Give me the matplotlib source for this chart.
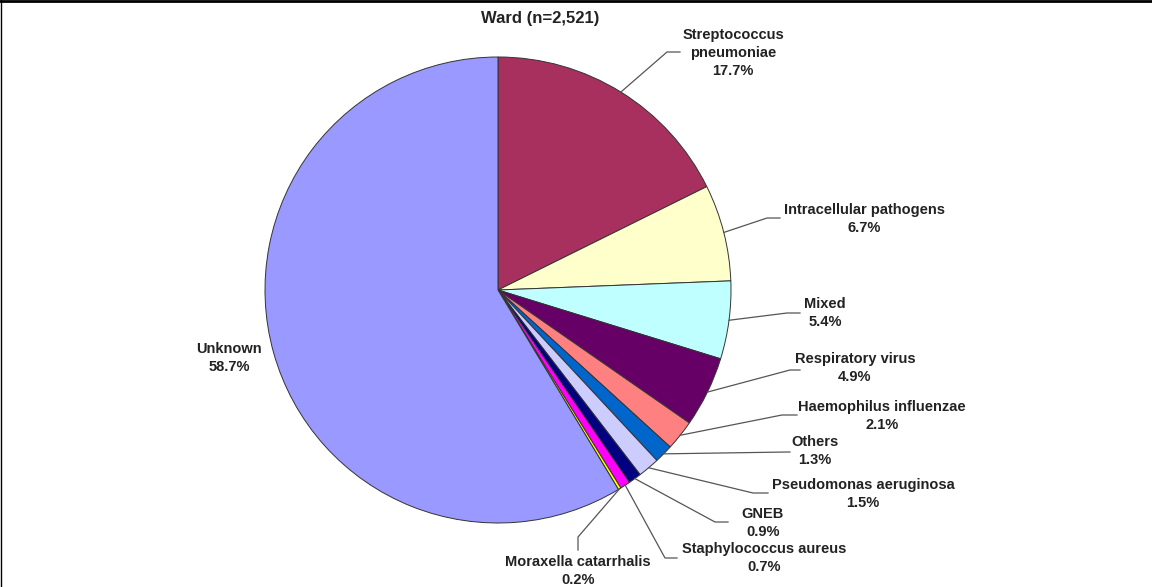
import matplotlib
matplotlib.use('Agg')
import matplotlib.pyplot as plt
import numpy as np
from matplotlib.lines import Line2D

plt.rcParams['font.family'] = ['Liberation Sans', 'DejaVu Sans']

# data
labels = ['Streptococcus\npneumoniae', 'Intracellular pathogens', 'Mixed',
          'Respiratory virus', 'Haemophilus influenzae', 'Others',
          'Pseudomonas aeruginosa', 'GNEB', 'Staphylococcus aureus',
          'Moraxella catarrhalis', 'Unknown']
values = [17.7, 6.7, 5.4, 4.9, 2.1, 1.3, 1.5, 0.9, 0.7, 0.2, 58.7]
colors = ['#A8305F', '#FFFFCC', '#BFFFFF', '#660066', '#FF8080', '#0066CC',
          '#CCCCFF', '#000080', '#FF00FF', '#FFFF00', '#9999FF']

W, H = 1152, 587
# label text positions (pixels from top-left) and leader elbows
text_pos = [(733, 53), (864, 219), (825, 313), (855, 368), (882, 416),
            (815, 451), (863, 494), (763, 523), (764, 558), (578, 571),
            (229, 358)]
elbows = [[(667, 52), (680, 52)], [(767, 218), (780, 218)],
          [(787, 313), (800, 313)], [(790, 370), (800, 370)],
          [(782, 415), (797, 415)], [(788, 452), (790, 452)],
          [(753, 493), (768, 493)], [(715, 522), (728, 522)],
          [(665, 558), (677, 558)], [(578, 537), (578, 550)],
          None]

fig = plt.figure(figsize=(W / 100, H / 100), dpi=100)
ax = fig.add_axes([0, 0, 1, 1])

cx, cy, r = 498, H - 290, 233
wedges, _ = ax.pie(values, colors=colors, startangle=90, counterclock=False,
                   center=(cx, cy), radius=r, frame=True,
                   wedgeprops=dict(edgecolor='#333333', linewidth=0.7))
ax.set_xlim(0, W)
ax.set_ylim(0, H)
ax.axis('off')

for w, lab, v, tp, el in zip(wedges, labels, values, text_pos, elbows):
    ax.text(tp[0], H - tp[1], f'{lab}\n{v}%', ha='center', va='center',
            fontsize=10.5, fontweight='bold', color='#222222', linespacing=1.38)
    if el is None:
        continue
    ang = np.deg2rad((w.theta1 + w.theta2) / 2)
    sx, sy = cx + r * np.cos(ang), cy + r * np.sin(ang)
    xs = [sx] + [p[0] for p in el]
    ys = [sy] + [H - p[1] for p in el]
    ax.plot(xs, ys, color='#555555', lw=0.9)

ax.text(540, H - 19, 'Ward (n=2,521)', ha='center', va='center',
        fontsize=12, fontweight='bold', color='#222222')

# frame edges
fig.add_artist(Line2D([0, 1], [1 - 1 / H, 1 - 1 / H], color='black', lw=2))
fig.add_artist(Line2D([0.5 / W, 0.5 / W], [0, 1], color='black', lw=1))

fig.savefig('out.png', dpi=100)
